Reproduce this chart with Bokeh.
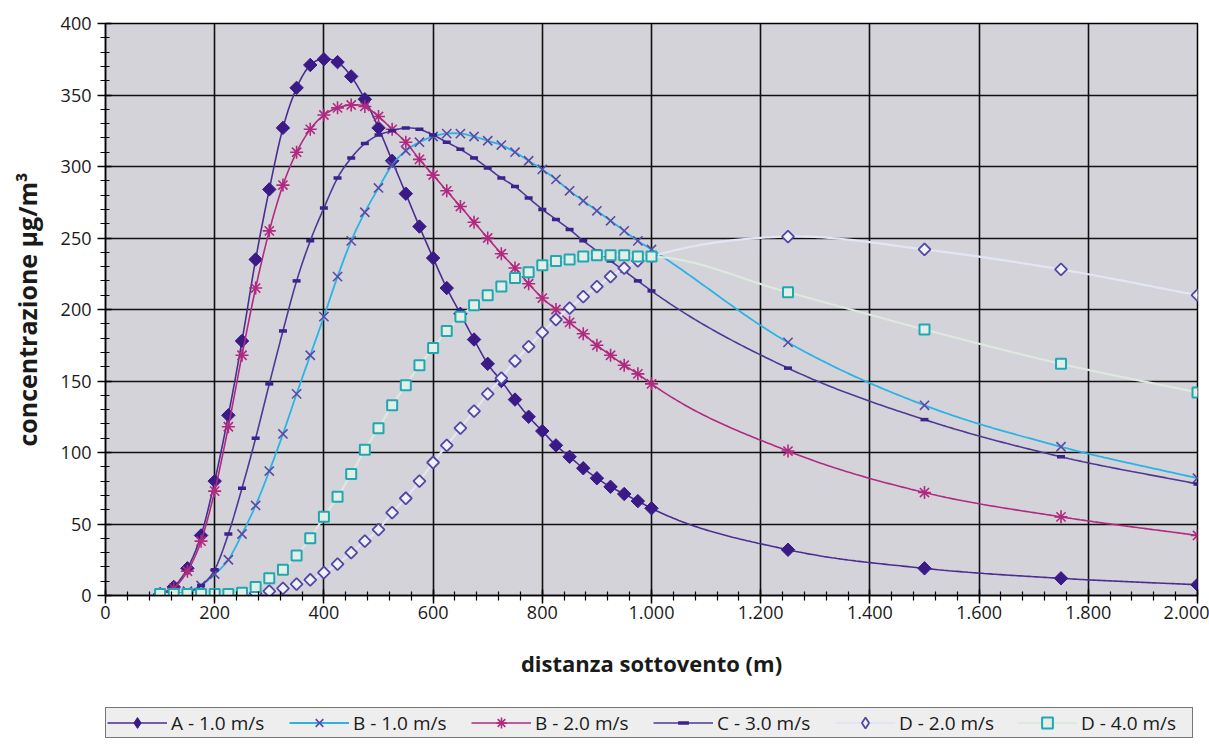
import math
from bokeh.plotting import figure
from bokeh.layouts import column
from bokeh.models import Range1d, FixedTicker, Legend, LegendItem
from bokeh.embed import file_html
from bokeh.resources import INLINE

# ---------------- data ----------------
distance = [100, 125, 150, 175, 200, 225, 250, 275, 300, 325, 350, 375, 400, 425, 450,
            475, 500, 525, 550, 575, 600, 625, 650, 675, 700, 725, 750, 775, 800, 825,
            850, 875, 900, 925, 950, 975, 1000, 1250, 1500, 1750, 2000]

a_10 = [1, 6, 19, 42, 80, 126, 178, 235, 284, 327, 355, 371, 375, 373, 363,
        347, 327, 304, 281, 258, 236, 215, 197, 179, 162, 150, 137, 125, 115, 105,
        97, 89, 82, 76, 71, 66, 61, 32, 19, 12, 7.5]

b_10 = [0, 1, 3, 7, 15, 25, 43, 63, 87, 113, 141, 168, 195, 223, 248,
        268, 285, 301, 311, 317, 321, 323, 323, 321, 318, 315, 310, 304, 298, 291,
        283, 276, 269, 262, 255, 248, 242, 177, 133, 104, 82]

b_20 = [0, 5, 17, 38, 73, 118, 168, 215, 255, 287, 310, 326, 336, 341, 343,
        342, 335, 326, 317, 305, 294, 283, 272, 261, 250, 239, 229, 218, 208, 200,
        191, 183, 175, 168, 161, 155, 148, 101, 72, 55, 42]

c_30 = [0, 1, 2, 7, 18, 43, 75, 110, 148, 185, 220, 248, 271, 292, 306,
        316, 322, 325, 327, 326, 322, 317, 312, 306, 299, 292, 286, 278, 270, 263,
        256, 248, 241, 234, 227, 220, 213, 159, 123, 97, 78]

d_20 = [0, 0, 0, 0, 0, 0, 0.5, 1.5, 3, 5, 8, 11, 16, 22, 30,
        38, 46, 58, 68, 80, 93, 105, 117, 129, 141, 152, 164, 174, 184, 193,
        201, 209, 216, 223, 229, 234, 237, 251, 242, 228, 210]

d_40 = [1, 1, 1, 1, 1, 1, 2, 6, 12, 18, 28, 40, 55, 69, 85,
        102, 117, 133, 147, 161, 173, 185, 195, 203, 210, 216, 222, 226, 231, 234,
        235, 237, 238, 238, 238, 237, 237, 212, 186, 162, 142]

series_labels = ["A - 1.0 m/s", "B - 1.0 m/s", "B - 2.0 m/s",
                 "C - 3.0 m/s", "D - 2.0 m/s", "D - 4.0 m/s"]

x_ticks = [0, 200, 400, 600, 800, 1000, 1200, 1400, 1600, 1800, 2000]
x_tick_labels = ["0", "200", "400", "600", "800", "1.000", "1.200",
                 "1.400", "1.600", "1.800", "2.000"]
y_ticks = [0, 50, 100, 150, 200, 250, 300, 350, 400]


# smoothed line path (cubic Hermite through the data points, like Excel's smoothed lines)
def smooth(xs, ys):
    k = len(xs)
    d = [(ys[i + 1] - ys[i]) / (xs[i + 1] - xs[i]) for i in range(k - 1)]
    m = [0.0] * k
    m[0] = d[0]
    m[-1] = d[-1]
    for i in range(1, k - 1):
        h0 = xs[i] - xs[i - 1]
        h1 = xs[i + 1] - xs[i]
        m[i] = (h1 * d[i - 1] + h0 * d[i]) / (h0 + h1)
    px, py = [xs[0]], [ys[0]]
    for i in range(k - 1):
        h = xs[i + 1] - xs[i]
        n = max(4, int(h / 5))
        for j in range(1, n + 1):
            t = j / n
            h00 = 2 * t**3 - 3 * t**2 + 1
            h10 = t**3 - 2 * t**2 + t
            h01 = -2 * t**3 + 3 * t**2
            h11 = t**3 - t**2
            px.append(xs[i] + t * h)
            py.append(h00 * ys[i] + h10 * h * m[i] + h01 * ys[i + 1] + h11 * h * m[i + 1])
    return px, py


FONT = "Open Sans"

p = figure(width=1209, height=700, output_backend="svg", toolbar_location=None,
           x_range=Range1d(0, 2000), y_range=Range1d(0, 400),
           min_border_left=105, min_border_right=12, min_border_top=23,
           min_border_bottom=105)

p.background_fill_color = "#d4d3d9"
p.border_fill_color = "white"
p.outline_line_color = "black"
p.outline_line_width = 1.5

# axes
p.xaxis.ticker = FixedTicker(ticks=x_ticks, minor_ticks=list(range(0, 2001, 40)))
p.yaxis.ticker = FixedTicker(ticks=y_ticks, minor_ticks=list(range(0, 401, 10)))
p.xaxis.major_label_overrides = {t: l for t, l in zip(x_ticks, x_tick_labels)}
for ax in (p.xaxis, p.yaxis):
    ax.axis_line_color = "black"
    ax.axis_line_width = 1.5
    ax.major_tick_line_color = "black"
    ax.minor_tick_line_color = "black"
    ax.major_tick_line_width = 1.5
    ax.minor_tick_line_width = 1.2
    ax.major_tick_in = 6
    ax.major_tick_out = 8
    ax.minor_tick_in = 4
    ax.minor_tick_out = 5
    ax.major_label_text_font = FONT
    ax.major_label_text_font_size = "18px"
    ax.major_label_text_color = "#1a1a1a"
    ax.axis_label_text_font = FONT
    ax.axis_label_text_font_style = "bold"
    ax.axis_label_text_color = "#1a1a1a"

p.xaxis.axis_label = "distanza sottovento (m)"
p.yaxis.axis_label = "concentrazione μg/m³"
p.xaxis.axis_label_text_font_size = "22px"
p.yaxis.axis_label_text_font_size = "25px"
p.xaxis.major_label_standoff = 2
p.yaxis.major_label_standoff = 6
p.xaxis.axis_label_standoff = 26
p.yaxis.axis_label_standoff = 14

p.xgrid.ticker = FixedTicker(ticks=x_ticks)
p.ygrid.ticker = FixedTicker(ticks=y_ticks)
for g in (p.xgrid, p.ygrid):
    g.grid_line_color = "#101010"
    g.grid_line_width = 1.6

# legend strip (sits under the chart; its frame lines up with the chart frame)
lf = figure(width=1209, height=44, output_backend="svg", toolbar_location=None,
            x_axis_location=None, y_axis_location=None,
            x_range=Range1d(0, 1), y_range=Range1d(0, 1),
            min_border=0, min_border_left=0, min_border_right=0,
            min_border_top=0, min_border_bottom=0)
lf.outline_line_color = None
lf.background_fill_color = "white"
lf.border_fill_color = "white"
lf.xgrid.visible = False
lf.ygrid.visible = False

styles = [
    dict(line=dict(line_color="#4a2d92", line_width=1.6),
         marker=dict(marker="square", angle=math.pi / 4, size=9.5,
                     fill_color="#3a1a86", line_color="#3a1a86", line_width=1),
         legend_marker="diamond"),
    dict(line=dict(line_color="#2bb3e6", line_width=1.8),
         marker=dict(marker="x", size=13, line_color="#5a4aa6", line_width=1.6),
         legend_marker="x"),
    dict(line=dict(line_color="#b02a80", line_width=1.6),
         marker=dict(marker="asterisk", size=13, line_color="#b02a80", line_width=1.6),
         legend_marker="asterisk"),
    dict(line=dict(line_color="#4d3996", line_width=1.6),
         marker=dict(marker="dash", size=8, line_color="#3b228c", line_width=3.5),
         legend_marker="dash"),
    dict(line=dict(line_color="#e2e6f4", line_width=2.2),
         marker=dict(marker="square", angle=math.pi / 4, size=8.5,
                     fill_color="#eef2fb", line_color="#5546a6", line_width=1.8),
         legend_marker="diamond"),
    dict(line=dict(line_color="#dde9de", line_width=2.2),
         marker=dict(marker="square", size=10,
                     fill_color="#e3eee6", line_color="#1fa8b1", line_width=2),
         legend_marker="square"),
]
series = [a_10, b_10, b_20, c_30, d_20, d_40]

items = []
for label, vals, st in zip(series_labels, series, styles):
    sx, sy = smooth(distance, vals)
    p.line(sx, sy, **st["line"])
    p.scatter(distance, vals, **st["marker"])
    # legend samples: one point lying outside the strip's visible range
    lm = dict(st["marker"])
    lm["marker"] = st["legend_marker"]
    lm.pop("angle", None)
    lr = lf.line([-5, -4], [-5, -5], **st["line"])
    mr = lf.scatter([-5], [-5], **lm)
    items.append(LegendItem(label=label, renderers=[lr, mr]))

legend = Legend(items=items, orientation="horizontal", location=(-0, 6),
                label_text_font=FONT, label_text_font_size="19px",
                label_text_color="#1a1a1a",
                glyph_width=60, glyph_height=27, label_standoff=4, spacing=8,
                padding=1, label_width=110, margin=0,
                border_line_color="black", border_line_width=1.2,
                background_fill_color="#eeeeee", background_fill_alpha=1)
lf.add_layout(legend)

layout = column(p, lf, spacing=0)
open("out.html", "w").write(file_html(layout, INLINE))
